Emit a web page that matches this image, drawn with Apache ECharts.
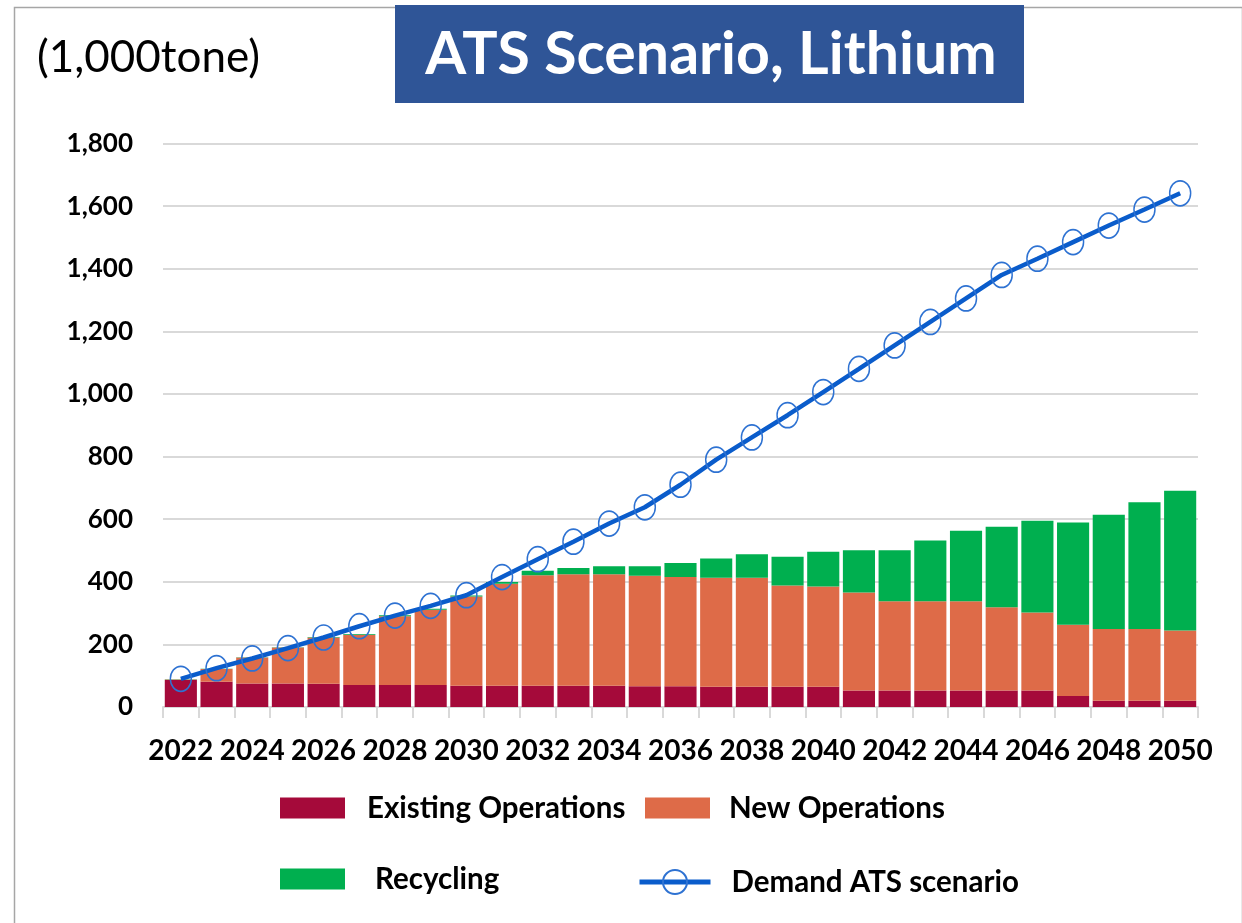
<!DOCTYPE html>
<html>
<head>
<meta charset="utf-8">
<script src="https://cdn.jsdelivr.net/npm/echarts@6/dist/echarts.min.js"></script>
<style>
  html, body { margin: 0; padding: 0; background: #ffffff; }
  #chart { width: 1242px; height: 923px; }
</style>
</head>
<body>
<div id="chart"></div>
<script>
// ---- Data ----
const years = ['2022','2023','2024','2025','2026','2027','2028','2029','2030','2031',
               '2032','2033','2034','2035','2036','2037','2038','2039','2040','2041',
               '2042','2043','2044','2045','2046','2047','2048','2049','2050'];
const existingOps = [86, 81, 75, 75, 74, 70, 70, 70, 68, 68,
                     68, 68, 68, 66, 66, 65, 65, 65, 65, 53,
                     53, 53, 53, 53, 53, 35, 20, 20, 20];
const newOps      = [2, 40, 83, 115, 148, 161, 220, 241, 285, 326,
                     353, 356, 356, 353, 349, 348, 348, 323, 320, 313,
                     285, 285, 285, 266, 249, 228, 229, 229, 224];
const recycling   = [1, 1, 1, 1, 2, 2, 3, 3, 3, 5,
                     14, 20, 26, 31, 45, 61, 75, 92, 111, 135,
                     163, 194, 225, 257, 293, 326, 365, 405, 447];
const demandATS   = [90, 124, 155, 188, 222, 258, 292, 323, 357, 415,
                     472, 528, 586, 638, 710, 790, 861, 932, 1006, 1080,
                     1155, 1230, 1305, 1380, 1432, 1485, 1538, 1589, 1641];
const seriesNames = ['Existing Operations', 'New Operations', 'Recycling', 'Demand ATS scenario'];
const titleText = 'ATS Scenario, Lithium';
const unitText = '(1,000tone)';

const FONT = 'Lato, "Open Sans", sans-serif';
const legendText = { fontFamily: FONT, fontSize: 29.5, fontWeight: 'bold', color: '#000' };
const LINE_COLOR = '#0A5CCB';
const MARKER_COLOR = '#2E72D2';

const chart = echarts.init(document.getElementById('chart'), null, { renderer: 'canvas' });
chart.setOption({
  backgroundColor: '#ffffff',
  animation: false,
  graphic: [
    { type: 'rect', left: 12, top: 5, shape: { width: 1228, height: 930 },
      style: { fill: 'none', stroke: '#a6a6a6', lineWidth: 1.5 }, z: -1 },
    { type: 'rect', left: 395, top: 5, shape: { width: 629, height: 98 },
      style: { fill: '#2F5597' } },
    { type: 'text', x: 711, y: 55,
      style: { text: titleText, fill: '#ffffff', font: 'bold 59px ' + FONT,
               textAlign: 'center', textVerticalAlign: 'middle' } },
    { type: 'text', x: 37, y: 58,
      style: { text: unitText, fill: '#000000', font: '44px ' + FONT,
               textAlign: 'left', textVerticalAlign: 'middle' } }
  ],
  legend: [
    { data: [seriesNames[0]], icon: 'rect', left: 280, top: 793, padding: 0, itemWidth: 65, itemHeight: 21,
      textStyle: Object.assign({ padding: [0, 0, 0, 17] }, legendText) },
    { data: [seriesNames[1]], icon: 'rect', left: 645, top: 793, padding: 0, itemWidth: 65, itemHeight: 21,
      textStyle: Object.assign({ padding: [0, 0, 0, 14] }, legendText) },
    { data: [seriesNames[2]], icon: 'rect', left: 280, top: 864, padding: 0, itemWidth: 65, itemHeight: 21,
      textStyle: Object.assign({ padding: [0, 0, 0, 25] }, legendText) },
    { data: [seriesNames[3]], left: 637, top: 867, padding: 0, itemWidth: 71, itemHeight: 30,
      lineStyle: { width: 5, color: LINE_COLOR },
      textStyle: Object.assign({ padding: [0, 0, 0, 16] }, legendText) }
  ],
  grid: { left: 163, right: 44, top: 143.5, bottom: 216, containLabel: false },
  xAxis: {
    type: 'category',
    data: years,
    boundaryGap: true,
    axisLine: { show: true, lineStyle: { color: '#d9d9d9', width: 2 } },
    axisTick: { show: true, interval: 0, length: 11, lineStyle: { color: '#d9d9d9', width: 2 } },
    axisLabel: { interval: 1, margin: 30, fontFamily: FONT, fontSize: 28, fontWeight: 'bold', color: '#000' }
  },
  yAxis: {
    type: 'value',
    min: 0, max: 1800, interval: 200,
    axisLine: { show: false },
    axisTick: { show: false },
    splitLine: { lineStyle: { color: '#d9d9d9', width: 2 } },
    axisLabel: {
      margin: 30, fontFamily: FONT, fontSize: 26, fontWeight: 'bold', color: '#000',
      formatter: function (v) { return v.toLocaleString('en-US'); }
    }
  },
  series: [
    { name: seriesNames[0], type: 'bar', stack: 'supply', data: existingOps,
      barCategoryGap: '10%', itemStyle: { color: '#A50A3A' } },
    { name: seriesNames[1], type: 'bar', stack: 'supply', data: newOps,
      itemStyle: { color: '#DE6B48' } },
    { name: seriesNames[2], type: 'bar', stack: 'supply', data: recycling,
      itemStyle: { color: '#00AF4F' } },
    { name: seriesNames[3], type: 'line', data: demandATS, z: 5,
      symbol: 'circle', symbolSize: [21, 25], showAllSymbol: true,
      lineStyle: { color: LINE_COLOR, width: 4.5 },
      itemStyle: { color: 'rgba(255,255,255,0)', borderColor: MARKER_COLOR, borderWidth: 1.6 } }
  ]
});
</script>
</body>
</html>
